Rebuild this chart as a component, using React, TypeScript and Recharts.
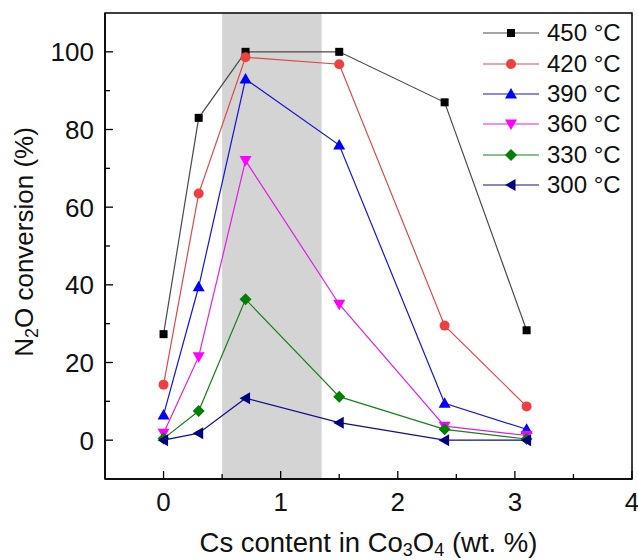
import React from "react";
import {
  Label,
  Legend,
  Line,
  LineChart,
  ReferenceArea,
  XAxis,
  YAxis,
} from "recharts";

// Cs loading (wt. %) in Co3O4
const csContent = [0, 0.3, 0.7, 1.5, 2.4, 3.1];

// N2O conversion (%) at each temperature
const conv450 = [27.3, 83, 100, 100, 87, 28.3];
const conv420 = [14.3, 63.5, 98.6, 96.8, 29.5, 8.7];
const conv390 = [6.5, 39.5, 93, 76, 9.5, 2.8];
const conv360 = [1.8, 21.5, 72, 35, 3.6, 1.2];
const conv330 = [0.4, 7.5, 36.3, 11.2, 2.8, 0.3];
const conv300 = [0, 1.8, 10.8, 4.5, 0, 0];

const xTicks = [-0.5, 0, 0.5, 1, 1.5, 2, 2.5, 3, 3.5, 4];
const yTicks = [-10, 0, 10, 20, 30, 40, 50, 60, 70, 80, 90, 100, 110];
const shadedRange = [0.5, 1.35];

type Shape = "square" | "circle" | "up" | "down" | "diamond" | "left";

type Series = {
  key: string;
  name: string;
  values: number[];
  line: string;
  fill: string;
  shape: Shape;
};

const series: Series[] = [
  { key: "t450", name: "450 °C", values: conv450, line: "#4a4a4a", fill: "#000000", shape: "square" },
  { key: "t420", name: "420 °C", values: conv420, line: "#d94a4a", fill: "#ef4040", shape: "circle" },
  { key: "t390", name: "390 °C", values: conv390, line: "#1515d0", fill: "#0000ff", shape: "up" },
  { key: "t360", name: "360 °C", values: conv360, line: "#e020e0", fill: "#ff00ff", shape: "down" },
  { key: "t330", name: "330 °C", values: conv330, line: "#1a801a", fill: "#008000", shape: "diamond" },
  { key: "t300", name: "300 °C", values: conv300, line: "#10108a", fill: "#000080", shape: "left" },
];

const data = csContent.map((x, i) => {
  const row: Record<string, number> = { x };
  series.forEach((s) => {
    row[s.key] = s.values[i];
  });
  return row;
});

const FONT = '"Liberation Sans", Arial, sans-serif';

const Marker = ({ cx, cy, shape, color }: { cx: number; cy: number; shape: Shape; color: string }) => {
  if (cx == null || cy == null) return null;
  switch (shape) {
    case "square":
      return <rect x={cx - 4} y={cy - 4} width={8} height={8} fill={color} />;
    case "circle":
      return <circle cx={cx} cy={cy} r={5} fill={color} />;
    case "up":
      return <polygon points={`${cx},${cy - 6} ${cx + 6},${cy + 4.5} ${cx - 6},${cy + 4.5}`} fill={color} />;
    case "down":
      return <polygon points={`${cx - 6},${cy - 4.5} ${cx + 6},${cy - 4.5} ${cx},${cy + 6}`} fill={color} />;
    case "diamond":
      return <polygon points={`${cx},${cy - 6} ${cx + 6},${cy} ${cx},${cy + 6} ${cx - 6},${cy}`} fill={color} />;
    case "left":
      return <polygon points={`${cx - 6},${cy} ${cx + 4.5},${cy - 6} ${cx + 4.5},${cy + 6}`} fill={color} />;
  }
  return null;
};

const XTick = ({ x, y, payload }: any) => {
  const v = payload.value as number;
  const major = Number.isInteger(v);
  if (v === -0.5) return null;
  return (
    <g>
      <line x1={x} y1={y} x2={x} y2={y - (major ? 8 : 5)} stroke="#000" strokeWidth={1.3} />
      {major && (
        <text x={x} y={y + 32} textAnchor="middle" fontSize={26} fontFamily={FONT} fill="#111">
          {v}
        </text>
      )}
    </g>
  );
};

const YTick = ({ x, y, payload }: any) => {
  const v = payload.value as number;
  if (v === -10 || v === 110) return null;
  const major = v % 20 === 0;
  return (
    <g>
      <line x1={x} y1={y} x2={x + (major ? 8 : 5)} y2={y} stroke="#000" strokeWidth={1.3} />
      {major && (
        <text x={x - 11} y={y} dy="0.36em" textAnchor="end" fontSize={26} fontFamily={FONT} fill="#111">
          {v}
        </text>
      )}
    </g>
  );
};

const XTitle = ({ viewBox }: any) => {
  const cx = viewBox.x + viewBox.width / 2;
  const y = viewBox.y + 73;
  return (
    <text x={cx} y={y} textAnchor="middle" fontSize={27.5} fontFamily={FONT} fill="#111">
      <tspan>Cs content in Co</tspan>
      <tspan fontSize={18} dy={4}>3</tspan>
      <tspan dy={-4}>O</tspan>
      <tspan fontSize={18} dy={4}>4</tspan>
      <tspan dy={-4}> (wt. %)</tspan>
    </text>
  );
};

const YTitle = ({ viewBox }: any) => {
  const x = viewBox.x + 33;
  const cy = viewBox.y + viewBox.height / 2 - 4;
  return (
    <text
      x={x}
      y={cy}
      textAnchor="middle"
      fontSize={26}
      fontFamily={FONT}
      fill="#111"
      transform={`rotate(-90, ${x}, ${cy})`}
    >
      <tspan>N</tspan>
      <tspan fontSize={18} dy={5}>2</tspan>
      <tspan dy={-5}>O conversion (%)</tspan>
    </text>
  );
};

const LegendBox = () => (
  <div style={{ fontFamily: FONT, fontSize: 24, color: "#111" }}>
    {series.map((s) => (
      <div key={s.key} style={{ display: "flex", alignItems: "center", height: 30.4 }}>
        <svg width={56} height={20} style={{ marginRight: 8 }}>
          <line x1={0} y1={10} x2={56} y2={10} stroke={s.line} strokeWidth={1.2} />
          <Marker cx={28} cy={10} shape={s.shape} color={s.fill} />
        </svg>
        <span style={{ lineHeight: "30px" }}>{s.name}</span>
      </div>
    ))}
  </div>
);

export default function App() {
  return (
    <div style={{ position: "absolute", left: 0, top: 0, background: "#fff" }}>
      <LineChart width={638} height={560} data={data} margin={{ top: 13, right: 6, left: 0, bottom: 0 }}>
        <ReferenceArea
          x1={shadedRange[0]}
          x2={shadedRange[1]}
          y1={-10}
          y2={110}
          fill="#d4d4d4"
          fillOpacity={1}
          stroke="none"
        />
        <XAxis
          type="number"
          dataKey="x"
          domain={[-0.5, 4]}
          ticks={xTicks}
          interval={0}
          allowDataOverflow
          height={81}
          tickSize={0}
          tickMargin={0}
          tickLine={false}
          axisLine={{ stroke: "#000", strokeWidth: 1.5 }}
          tick={<XTick />}
        >
          <Label content={<XTitle />} />
        </XAxis>
        <YAxis
          type="number"
          domain={[-10, 110]}
          ticks={yTicks}
          interval={0}
          allowDataOverflow
          width={105}
          tickSize={0}
          tickMargin={0}
          tickLine={false}
          axisLine={{ stroke: "#000", strokeWidth: 1.5 }}
          tick={<YTick />}
        >
          <Label content={<YTitle />} />
        </YAxis>
        <ReferenceArea
          x1={-0.5}
          x2={4}
          y1={-10}
          y2={110}
          fill="none"
          stroke="#000"
          strokeWidth={1.5}
        />
        {series.map((s) => (
          <Line
            key={s.key}
            type="linear"
            dataKey={s.key}
            name={s.name}
            stroke={s.line}
            strokeWidth={1.2}
            isAnimationActive={false}
            dot={(p: any) => (
              <Marker key={`${s.key}-${p.index}`} cx={p.cx} cy={p.cy} shape={s.shape} color={s.fill} />
            )}
            activeDot={false}
          />
        ))}
        <Legend
          layout="vertical"
          align="center"
          verticalAlign="middle"
          content={<LegendBox />}
          wrapperStyle={{ position: "absolute", left: 483, top: 18, width: "auto" }}
        />
      </LineChart>
    </div>
  );
}
